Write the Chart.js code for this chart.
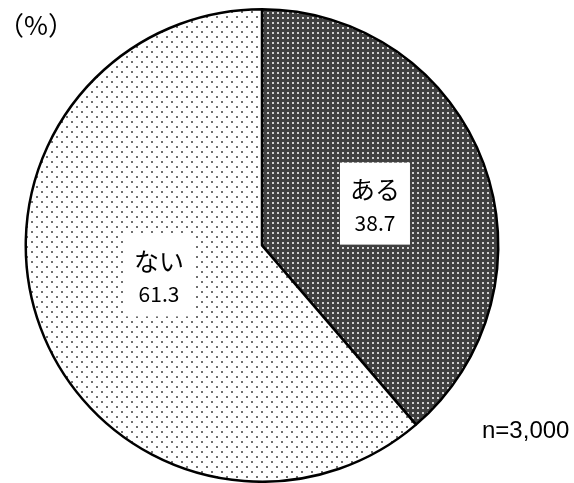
<!DOCTYPE html>
<html>
<head>
<meta charset="utf-8">
<script src="https://cdn.jsdelivr.net/npm/chart.js@4/dist/chart.umd.min.js"></script>
<style>
  html, body { margin: 0; padding: 0; background: #fff; }
  #wrap { position: relative; width: 574px; height: 483px; }
</style>
</head>
<body>
<div id="wrap"><canvas id="pieChart" width="574" height="483"></canvas></div>
<script>
// データ
const categories = ['ある', 'ない'];
const values = [38.7, 61.3];
const unitLabel = '（%）';
const sampleLabel = 'n=3,000';

// ドットの模様を作る
function makePattern(bg, dot, size, dots) {
    const c = document.createElement('canvas');
    c.width = size; c.height = size;
    const g = c.getContext('2d');
    g.fillStyle = bg;
    g.fillRect(0, 0, size, size);
    g.fillStyle = dot;
    dots.forEach(d => g.fillRect(d[0], d[1], 2, 2));
    return g.createPattern(c, 'repeat');
}

const ctx = document.getElementById('pieChart').getContext('2d');
const darkPattern = makePattern('#404040', '#d0d0d0', 5, [[2, 2]]);
const lightPattern = makePattern('#ffffff', '#707070', 10, [[1, 1], [6, 6]]);

// ラベル（白い箱）と注記を描くプラグイン
const labelPlugin = {
    id: 'boxLabels',
    afterDatasetsDraw(chart, args, opts) {
        const c = chart.ctx;
        const meta = chart.getDatasetMeta(0);
        c.save();
        meta.data.forEach((arc, i) => {
            const p = arc.getProps(['x', 'y', 'startAngle', 'endAngle', 'outerRadius'], true);
            const mid = (p.startAngle + p.endAngle) / 2;
            const r = p.outerRadius * opts.radiusRatio;
            const off = opts.offsets[i];
            const cx = p.x + Math.cos(mid) * r + off[0];
            const cy = p.y + Math.sin(mid) * r + off[1];
            const w = 70, h = 82;
            c.fillStyle = '#fff';
            c.fillRect(cx - w / 2, cy - h / 2, w, h);
            c.fillStyle = '#000';
            c.textAlign = 'center';
            c.textBaseline = 'middle';
            c.font = '25px "Noto Sans CJK JP"';
            c.fillText(categories[i], cx, cy - 14);
            c.font = '21px "Noto Sans CJK JP"';
            c.fillText(values[i].toFixed(1), cx, cy + 19);
        });
        c.textAlign = 'left';
        c.textBaseline = 'alphabetic';
        c.font = '26px "Noto Sans CJK JP"';
        c.fillText(unitLabel, -2, 35);
        c.font = '24px "Liberation Sans"';
        c.fillText(sampleLabel, 482, 438);
        c.restore();
    }
};

new Chart(ctx, {
    type: 'pie',
    data: {
        labels: categories,
        datasets: [{
            data: values,
            backgroundColor: [darkPattern, lightPattern],
            borderColor: '#000',
            borderWidth: 2.5
        }]
    },
    options: {
        responsive: false,
        animation: false,
        layout: { padding: { left: 24, right: 74, top: 8, bottom: 0 } },
        plugins: {
            legend: { display: false },
            tooltip: { enabled: false },
            boxLabels: { radiusRatio: 0.51, offsets: [[0, 0], [10, -12]] }
        }
    },
    plugins: [labelPlugin]
});
</script>
</body>
</html>
